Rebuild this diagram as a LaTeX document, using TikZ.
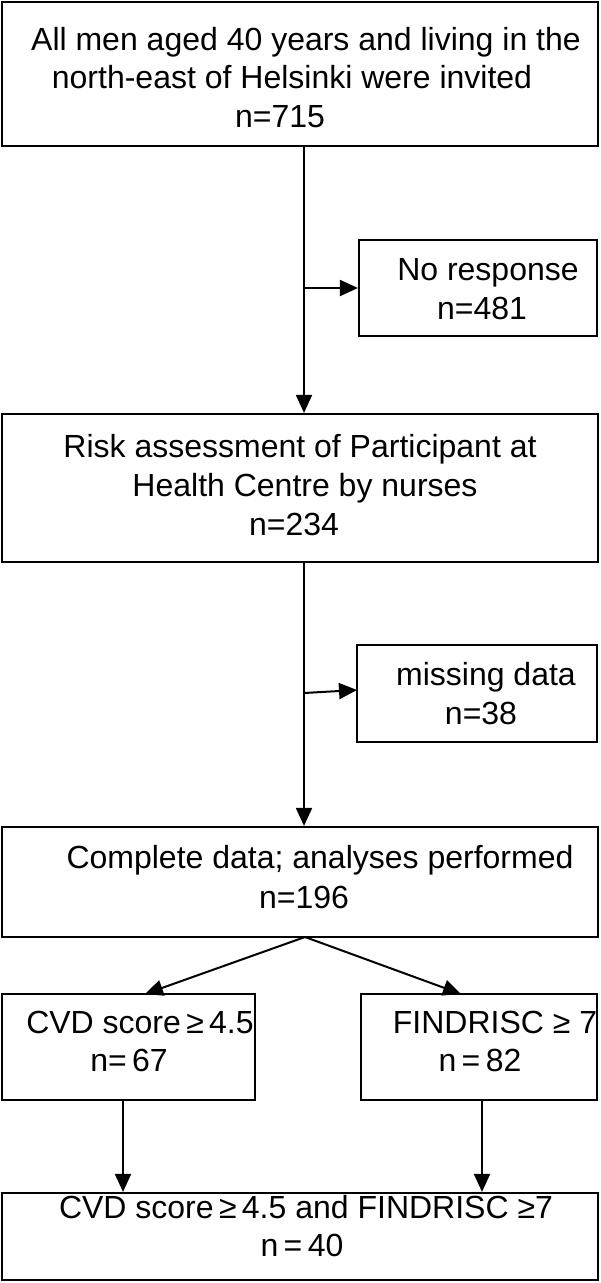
\documentclass[tikz,border=0pt]{standalone}
\usepackage{fontspec}
\setmainfont{Liberation Sans}
\usetikzlibrary{arrows.meta}
\begin{document}
\begin{tikzpicture}[x=1pt,y=-1pt,
  box/.style={draw=black,line width=2.2pt,rectangle,inner sep=0pt},
  txt/.style={inner sep=0pt,font=\fontsize{32}{38}\selectfont,anchor=base},
  arr/.style={draw=black,line width=2pt,-{Triangle[length=18pt,width=16pt]}}]
\useasboundingbox (0,0) rectangle (600,1283);
% boxes
\node[box,minimum width=596pt,minimum height=144pt] (b1) at (300,74) {};
\node[box,minimum width=238pt,minimum height=96pt] (nr) at (478,288) {};
\node[box,minimum width=596pt,minimum height=148pt] (b2) at (300,488) {};
\node[box,minimum width=240pt,minimum height=97pt] (md) at (477,693.5) {};
\node[box,minimum width=596pt,minimum height=110pt] (b3) at (300,882) {};
\node[box,minimum width=253pt,minimum height=106pt] (cvd) at (128.5,1047) {};
\node[box,minimum width=236pt,minimum height=106pt] (fr) at (479,1047) {};
\node[box,minimum width=596pt,minimum height=87pt] (b4) at (300,1236.5) {};
% texts
\node[txt] (t1a) at (306,50) {All men aged 40 years and living in the};
\node[txt] (t1b) at (292,88) {north-east of Helsinki were invited};
\node[txt] (t1c) at (280,127) {n=715};
\node[txt] (tnra) at (488,280) {No response};
\node[txt] (tnrb) at (482,319) {n=481};
\node[txt] (t2a) at (300,457) {Risk assessment of Participant at};
\node[txt] (t2b) at (305,496) {Health Centre by nurses};
\node[txt] (t2c) at (294,535) {n=234};
\node[txt] (tmda) at (486,685) {missing data};
\node[txt] (tmdb) at (481,724) {n=38};
\node[txt] (t3a) at (320,868) {Complete data; analyses performed};
\node[txt] (t3b) at (304,908) {n=196};
\node[txt] (tcva) at (140,1033) {CVD score\,≥\,4.5};
\node[txt] (tcvb) at (129,1071) {n=\,67};
\node[txt] (tfra) at (495,1033) {FINDRISC ≥ 7};
\node[txt] (tfrb) at (480,1071) {n\,=\,82};
\node[txt] (t4a) at (306,1218) {CVD score\,≥\,4.5 and FINDRISC ≥7};
\node[txt] (t4b) at (302,1256) {n\,=\,40};
% junctions
\coordinate (j1) at (304,288);
\coordinate (j2a) at (304,693);
\coordinate (j2b) at (357,690);
\coordinate (ja) at (305,937);
\coordinate (ta) at (145,994);
\coordinate (tb) at (461,994);
\coordinate (va) at (123,0);
\coordinate (vb) at (482,0);
% connectors
\draw[arr] (j1 |- b1.south) -- (j1 |- b2.north);
\draw[arr] (j1) -- (nr.west |- j1);
\draw[arr] (j1 |- b2.south) -- (j1 |- b3.north);
\draw[arr] (j2a) -- (j2b);
\draw[arr] (ja) -- (ta);
\draw[arr] (ja) -- (tb);
\draw[arr] (va |- cvd.south) -- (va |- b4.north);
\draw[arr] (vb |- fr.south) -- (vb |- b4.north);
\end{tikzpicture}
\end{document}
